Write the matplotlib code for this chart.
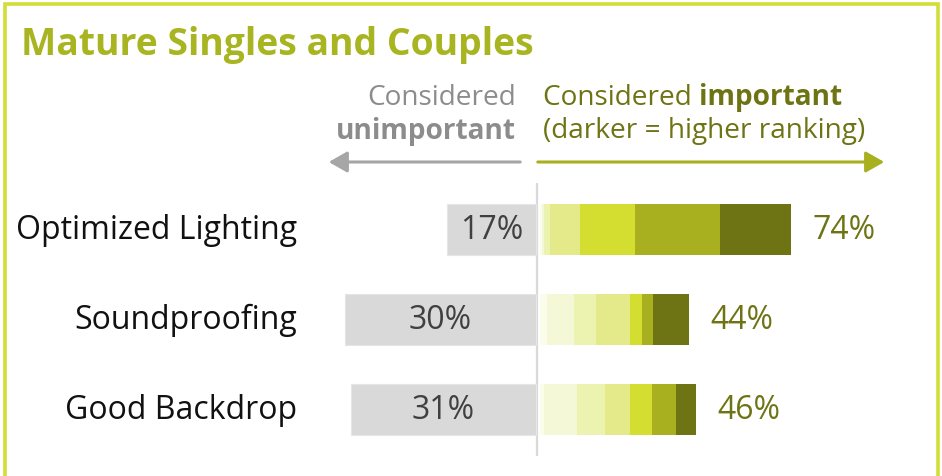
import matplotlib
matplotlib.use("Agg")
import matplotlib.pyplot as plt
from matplotlib.patches import Rectangle, FancyArrowPatch

# ---------------- data ----------------
categories = ["Optimized Lighting", "Soundproofing", "Good Backdrop"]
unimportant_pct = [17, 30, 31]            # label values
unimportant_bar = [26.3, 56.2, 54.4]      # drawn gray bar extents
important_pct = [74, 44, 46]
# ranking segments, lightest (lowest rank) -> darkest (highest rank)
rank1 = [0.7, 2.3, 1.3]
rank2 = [0.6, 7.7, 9.6]
rank3 = [1.7, 6.7, 8.4]
rank4 = [9.0, 10.0, 7.4]
rank5 = [16.0, 3.3, 6.4]
rank6 = [25.1, 3.5, 7.1]
rank7 = [20.9, 10.5, 5.8]
rank_colors = ["#fbfce9", "#f5f8d6", "#ecf2b0", "#e4ea8a", "#d4de30", "#a8b020", "#6e7414"]

FONT = "Open Sans"
plt.rcParams["font.family"] = [FONT, "DejaVu Sans"]

W, H = 942, 476
fig = plt.figure(figsize=(W / 100, H / 100), dpi=100)
ax = fig.add_axes([0, 0, 1, 1])

# coordinate system: px = X0 + S * x ; rows every 90 px starting at 229 px
X0, S = 539.5, 3.4
Y0, RS = 229, 90
ax.set_xlim((0 - X0) / S, (W - X0) / S)
ax.set_ylim((H - Y0) / RS, (0 - Y0) / RS)
ax.axis("off")

def px2x(p):
    return (p - X0) / S

def px2y(p):
    return (p - Y0) / RS

bar_h = 51 / RS
gap = 1.05

# center line
ax.plot([px2x(537.2), px2x(537.2)], [px2y(183), px2y(456)], color="#dadada", lw=1.6,
        solid_capstyle="butt", zorder=1)

segments = [rank1, rank2, rank3, rank4, rank5, rank6, rank7]
for i, cat in enumerate(categories):
    # gray bar
    ax.barh(i, unimportant_bar[i], left=-gap - unimportant_bar[i], height=bar_h,
            color="#d9d9d9", edgecolor="#e6e6e6", linewidth=0.8, zorder=2)
    ax.text(-gap - unimportant_bar[i] / 2, i + 0.02, f"{unimportant_pct[i]}%",
            ha="center", va="center", fontsize=23, color="#404040", zorder=3)
    left = 0.0
    for seg, col in zip(segments, rank_colors):
        ax.barh(i, seg[i], left=left, height=bar_h, color=col, edgecolor="none", zorder=2)
        left += seg[i]
    ax.text(left + 6.3, i + 0.02, f"{important_pct[i]}%", ha="left", va="center",
            fontsize=23, color="#6e7414", zorder=3)
    ax.text(px2x(297), i + 0.02, cat, ha="right", va="center", fontsize=23,
            color="#111111", zorder=3)

# header texts
gray_txt = "#8c8c8c"
olive_txt = "#6e7414"
hs = 20.2
ax.text(px2x(516), px2y(98), "Considered", ha="right", va="center", fontsize=hs, color=gray_txt)
ax.text(px2x(516), px2y(131), "unimportant", ha="right", va="center", fontsize=hs,
        color=gray_txt, fontweight="bold")
t1 = ax.text(px2x(543), px2y(98), "Considered ", ha="left", va="center", fontsize=hs, color=olive_txt)
ax.text(px2x(543), px2y(131), "(darker = higher ranking)", ha="left", va="center", fontsize=hs,
        color=olive_txt)
fig.canvas.draw()
r = fig.canvas.get_renderer()
bb = t1.get_window_extent(renderer=r)
ax.text(px2x(bb.x1), px2y(98), "important", ha="left", va="center", fontsize=hs,
        color=olive_txt, fontweight="bold")

# arrows
ax.add_patch(FancyArrowPatch((px2x(523), px2y(162)), (px2x(326), px2y(162)),
                             arrowstyle="-|>,head_length=7,head_width=4", mutation_scale=1.6,
                             color="#a6a6a6", lw=2.2, zorder=3))
ax.add_patch(FancyArrowPatch((px2x(535), px2y(162)), (px2x(887), px2y(162)),
                             arrowstyle="-|>,head_length=7,head_width=4", mutation_scale=1.6,
                             color="#a8b020", lw=2.2, zorder=3))

# title
fig.text(21 / W, 1 - 45 / H, "Mature Singles and Couples", ha="left", va="center",
         fontsize=26.9, fontweight="bold", color="#a8b521")

# frame (bottom edge outside the image)
fig.patches.append(Rectangle((5 / W, -0.05), (W - 9) / W, 1.05 - 4 / H, transform=fig.transFigure,
                             fill=False, edgecolor="#d2de38", linewidth=2.6))

fig.savefig("out.png", dpi=100)
